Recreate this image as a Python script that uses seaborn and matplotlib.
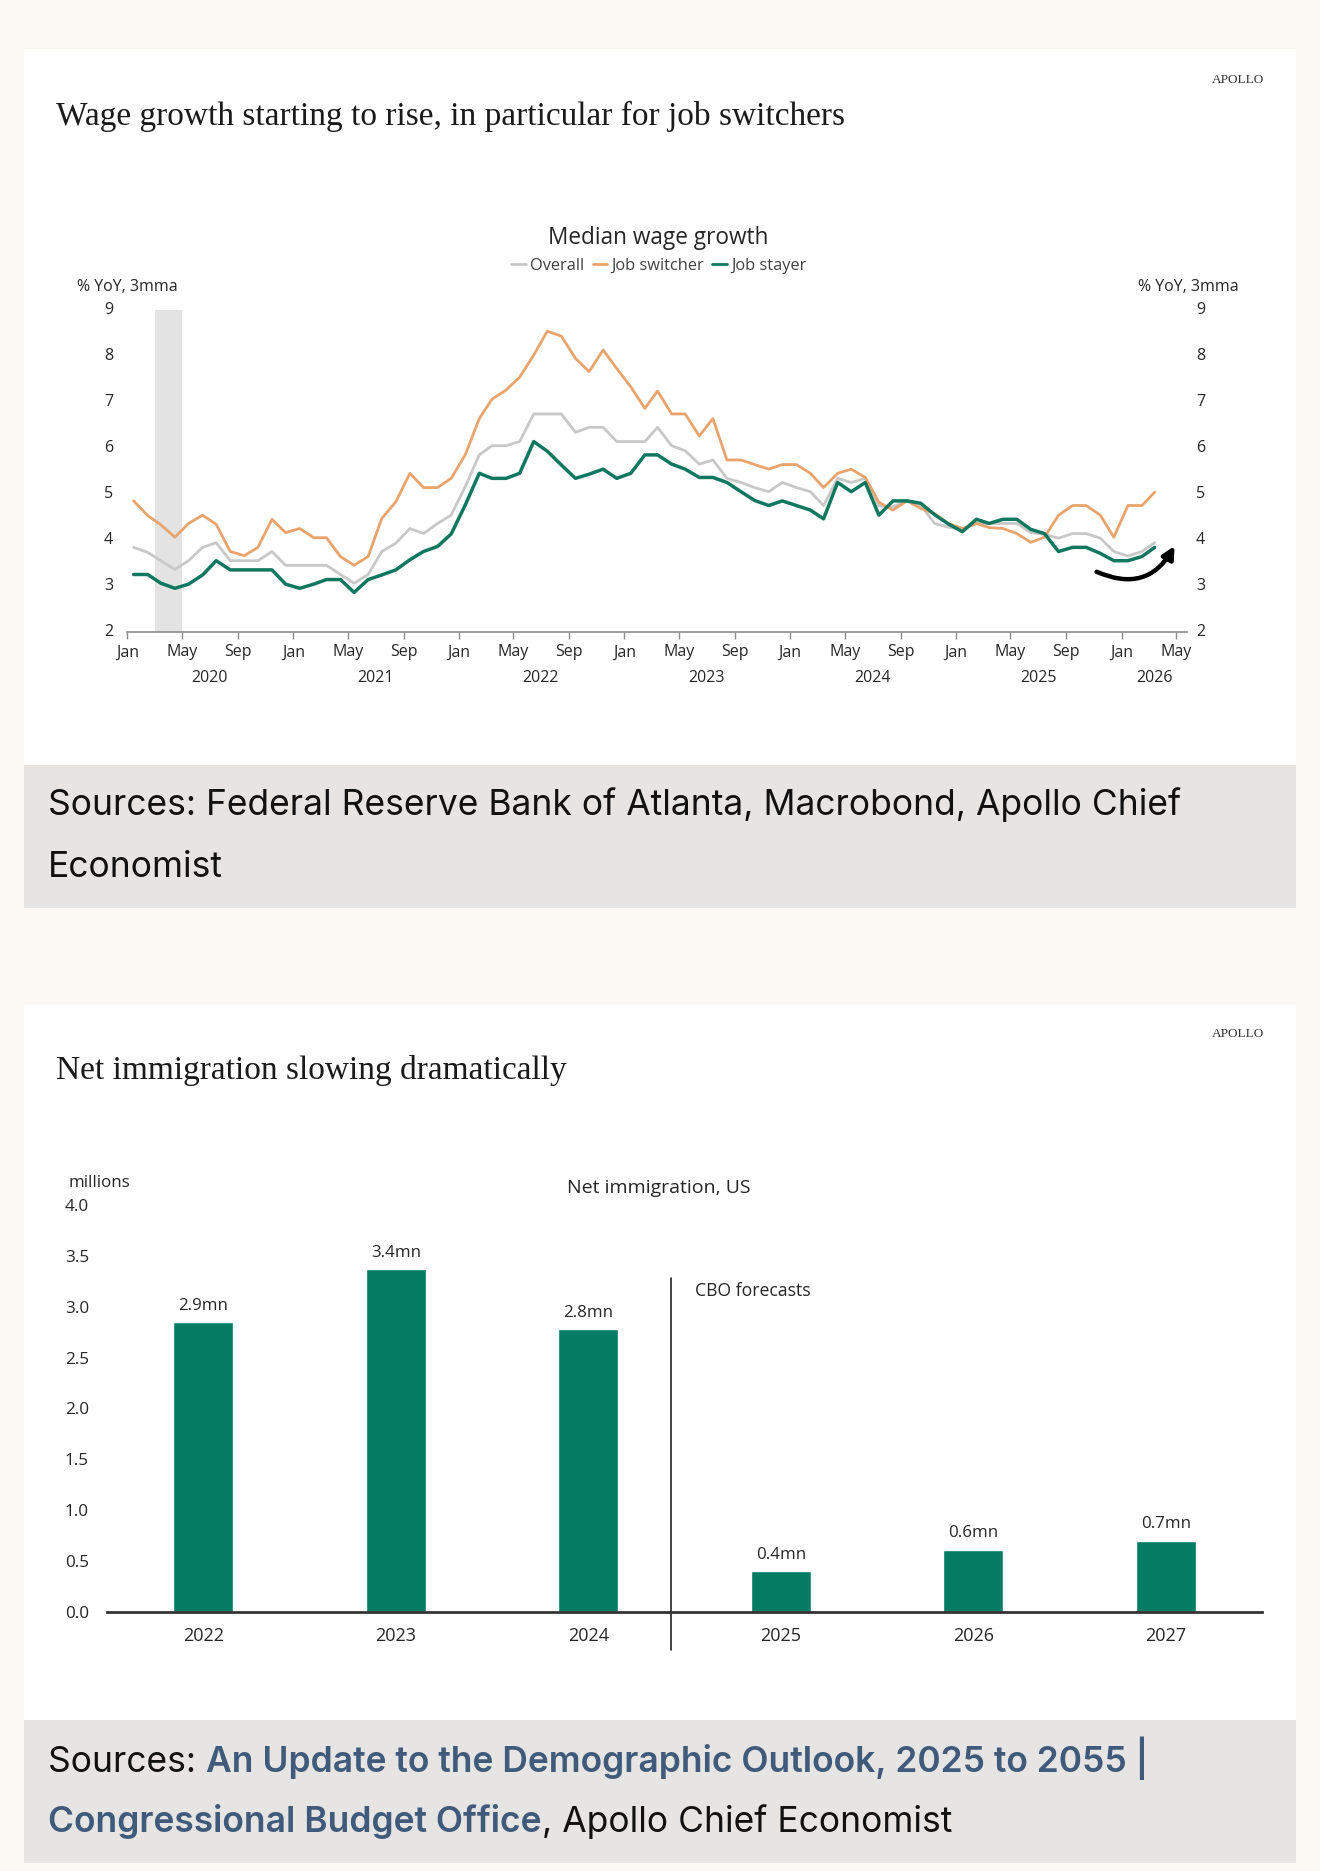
import numpy as np
import pandas as pd
import matplotlib
matplotlib.use("Agg")
import matplotlib.pyplot as plt
import matplotlib.dates as mdates
import matplotlib.transforms as mtransforms
from matplotlib.patches import Rectangle
from matplotlib.lines import Line2D
import seaborn as sns

# Median wage growth, % YoY 3mma, Jan 2020 .. Mar 2026
overall = [3.84, 3.73, 3.55, 3.36, 3.55, 3.84, 3.94, 3.55, 3.55, 3.55, 3.75, 3.45,
           3.45, 3.45, 3.45, 3.25, 3.06, 3.25, 3.75, 3.93, 4.25, 4.14, 4.36, 4.54,
           5.16, 5.85, 6.05, 6.05, 6.14, 6.74, 6.74, 6.74, 6.34, 6.45, 6.45, 6.14,
           6.14, 6.14, 6.45, 6.05, 5.94, 5.65, 5.74, 5.34, 5.25, 5.14, 5.05, 5.25,
           5.14, 5.05, 4.75, 5.34, 5.25, 5.34, 4.74, 4.72, 4.86, 4.76, 4.36, 4.28,
           4.23, 4.36, 4.36, 4.36, 4.36, 4.16, 4.12, 4.04, 4.14, 4.14, 4.04, 3.75,
           3.65, 3.75, 3.94]
switcher = [4.85, 4.53, 4.33, 4.06, 4.36, 4.54, 4.34, 3.75, 3.66, 3.84, 4.45, 4.16,
            4.25, 4.05, 4.05, 3.64, 3.45, 3.64, 4.47, 4.83, 5.45, 5.14, 5.14, 5.34,
            5.85, 6.64, 7.06, 7.26, 7.54, 8.02, 8.54, 8.43, 7.95, 7.66, 8.13, 7.73,
            7.33, 6.86, 7.24, 6.74, 6.74, 6.26, 6.64, 5.74, 5.74, 5.64, 5.54, 5.64,
            5.64, 5.45, 5.14, 5.45, 5.54, 5.36, 4.82, 4.65, 4.85, 4.69, 4.57, 4.36,
            4.25, 4.36, 4.27, 4.25, 4.14, 3.95, 4.06, 4.54, 4.75, 4.75, 4.54, 4.06,
            4.75, 4.75, 5.04]
stayer = [3.25, 3.25, 3.06, 2.95, 3.04, 3.24, 3.55, 3.35, 3.35, 3.35, 3.35, 3.04,
          2.95, 3.04, 3.14, 3.14, 2.86, 3.14, 3.24, 3.35, 3.57, 3.75, 3.86, 4.13,
          4.76, 5.45, 5.34, 5.34, 5.45, 6.14, 5.93, 5.63, 5.34, 5.43, 5.54, 5.34,
          5.45, 5.85, 5.85, 5.65, 5.54, 5.36, 5.36, 5.25, 5.05, 4.86, 4.75, 4.85,
          4.75, 4.65, 4.46, 5.25, 5.05, 5.25, 4.54, 4.85, 4.85, 4.80, 4.55, 4.35,
          4.18, 4.45, 4.36, 4.45, 4.45, 4.23, 4.14, 3.75, 3.84, 3.84, 3.71, 3.55,
          3.55, 3.64, 3.84]
months = pd.date_range("2020-01-01", periods=len(overall), freq="MS") + pd.Timedelta(days=14)
series_names = ["Overall", "Job switcher", "Job stayer"]
series_colors = {"Overall": "#c8c8c8", "Job switcher": "#e8a46c", "Job stayer": "#11785f"}
year_labels = ["2020", "2021", "2022", "2023", "2024", "2025", "2026"]
year_label_dates = ["2020-07-01", "2021-07-01", "2022-07-01", "2023-07-01",
                    "2024-07-01", "2025-07-01", "2026-03-14"]

# Net immigration, US, millions
imm_years = ["2022", "2023", "2024", "2025", "2026", "2027"]
imm_values = [2.85, 3.37, 2.78, 0.40, 0.61, 0.70]
imm_labels = ["2.9mn", "3.4mn", "2.8mn", "0.4mn", "0.6mn", "0.7mn"]

W, H = 1320, 1871
BG = "#fcf8f4"
GREY_BOX = "#e6e5e4"
TXT = "#262626"

sns.set_theme(style="white")
plt.rcParams["font.family"] = ["Open Sans", "DejaVu Sans"]

fig = plt.figure(figsize=(W / 100, H / 100), dpi=100, facecolor=BG)

# background layer in pixel coordinates
bg = fig.add_axes([0, 0, 1, 1], zorder=-10)
bg.set_xlim(0, W)
bg.set_ylim(H, 0)
bg.axis("off")


def box(x0, y0, x1, y1, color):
    bg.add_patch(Rectangle((x0, y0), x1 - x0, y1 - y0, facecolor=color, edgecolor="none"))


box(24, 49, 1296, 765, "white")
box(24, 765, 1296, 908, GREY_BOX)
box(24, 1005, 1296, 1720, "white")
box(24, 1720, 1296, 1863, GREY_BOX)

serif = ["Liberation Serif", "DejaVu Serif"]
bg.text(56, 116, "Wage growth starting to rise, in particular for job switchers",
        family=serif, fontsize=24, color="#1a1a1a", va="center", ha="left")
bg.text(56, 1071, "Net immigration slowing dramatically",
        family=serif, fontsize=24, color="#1a1a1a", va="center", ha="left")
for yy in (80, 1034):
    bg.text(1264, yy, "APOLLO", family=serif, fontsize=9.5, color="#333333", ha="right", va="center")

src_font = ["Inter", "DejaVu Sans"]
SRC_SIZE = 25.5
bg.text(48, 815, "Sources: Federal Reserve Bank of Atlanta, Macrobond, Apollo Chief",
        family=src_font, fontsize=SRC_SIZE, color="#111111", va="baseline")
bg.text(48, 877, "Economist", family=src_font, fontsize=SRC_SIZE, color="#111111", va="baseline")

# second source line with link colored parts
LINK = "#3f5a7a"
renderer = fig.canvas.get_renderer()


def run_text(x, y, parts):
    for s, c, w in parts:
        t = bg.text(x, y, s, family=src_font, fontsize=SRC_SIZE, color=c, weight=w, va="baseline")
        bb = t.get_window_extent(renderer=renderer)
        x += bb.width * W / fig.bbox.width


run_text(48, 1772, [("Sources: ", "#111111", "normal"),
                    ("An Update to the Demographic Outlook, 2025 to 2055 |", LINK, "semibold")])
run_text(48, 1832, [("Congressional Budget Office", LINK, "semibold"),
                    (", Apollo Chief Economist", "#111111", "normal")])

# ---------- line chart ----------
AX_L, AX_R = 127.3, 1187
px_day = (1176 - AX_L) / (pd.Timestamp("2026-05-01") - pd.Timestamp("2020-01-01")).days
x_end = pd.Timestamp("2026-05-01") + pd.Timedelta(days=(AX_R - 1176) / px_day)
ax1 = fig.add_axes([AX_L / W, 1 - 632 / H, (AX_R - AX_L) / W, (632 - 310) / H])
ax1.set_facecolor("none")

df = pd.DataFrame({
    "date": np.tile(months, 3),
    "value": overall + switcher + stayer,
    "series": np.repeat(series_names, len(months)),
})
for name, lw in zip(series_names, [2.0, 2.0, 2.5]):
    sns.lineplot(data=df[df.series == name], x="date", y="value", color=series_colors[name],
                 linewidth=lw, ax=ax1, legend=False)

ax1.axvspan(pd.Timestamp("2020-03-01"), pd.Timestamp("2020-05-01"), color="#e3e3e3", lw=0, zorder=0)
ax1.set_xlim(pd.Timestamp("2020-01-01"), x_end)
ax1.set_ylim(2, 9)
ax1.set_yticks(range(2, 10))
ax1.set_xlabel("")
ax1.set_ylabel("")
ax1.xaxis.set_major_locator(mdates.MonthLocator(bymonth=[1, 5, 9]))
ax1.xaxis.set_major_formatter(mdates.DateFormatter("%b"))
for s in ["left", "right", "top"]:
    ax1.spines[s].set_visible(False)
ax1.spines["bottom"].set_color("#8c8c8c")
ax1.spines["bottom"].set_linewidth(1.2)
ax1.tick_params(axis="x", bottom=True, length=5, width=1, color="#8c8c8c", pad=4,
                labelsize=11.5, labelcolor=TXT)
ax1.tick_params(axis="y", left=False, right=False, labelleft=False, labelright=False, length=0)

# y labels on both sides (left right-aligned, right left-aligned)
ytrans = mtransforms.blended_transform_factory(ax1.transAxes, ax1.transData)
left_fx = (113 - AX_L) / (AX_R - AX_L)
right_fx = (1196 - AX_L) / (AX_R - AX_L)
for v in range(2, 10):
    ax1.text(left_fx, v, str(v), transform=ytrans, ha="right", va="center", fontsize=11.5,
             color=TXT, clip_on=False)
    ax1.text(right_fx, v, str(v), transform=ytrans, ha="left", va="center", fontsize=11.5,
             color=TXT, clip_on=False)

trans = mtransforms.blended_transform_factory(ax1.transData, ax1.transAxes)
for yr, mid in zip(year_labels, year_label_dates):
    ax1.text(pd.Timestamp(mid), -0.143, yr, transform=trans, ha="center", va="center",
             fontsize=11.5, color=TXT)

ax1.annotate("", xy=(pd.Timestamp("2026-04-28"), 3.87), xytext=(pd.Timestamp("2025-11-07"), 3.31),
             arrowprops=dict(arrowstyle="-|>", color="black", lw=3.2, mutation_scale=18,
                             connectionstyle="arc3,rad=0.45", shrinkA=0, shrinkB=0))

bg.text(127, 287, "% YoY, 3mma", fontsize=11.5, color=TXT, ha="center", va="center")
bg.text(1188, 287, "% YoY, 3mma", fontsize=11.5, color=TXT, ha="center", va="center")
bg.text(658, 238, "Median wage growth", fontsize=16.3, color=TXT, ha="center", va="center")

handles = [Line2D([], [], color=series_colors[n], lw=2) for n in series_names]
fig.legend(handles, series_names, loc="center", bbox_to_anchor=(659 / W, 1 - 266 / H),
           ncol=3, frameon=False, fontsize=11.8, handlelength=0.9, handletextpad=0.25,
           columnspacing=0.5, labelcolor="#404040")

# ---------- bar chart ----------
ax2 = fig.add_axes([107 / W, 1 - 1611.7 / H, (1262 - 107) / W, (1611.7 - 1205) / H])
ax2.set_facecolor("none")
sns.barplot(x=imm_years, y=imm_values, color="#057c63", saturation=1, width=0.31, ax=ax2)
ax2.bar_label(ax2.containers[0], labels=imm_labels, padding=6, fontsize=12.2, color=TXT)
ax2.set_xlim(-0.5, 5.5)
ax2.set_ylim(0, 4.0)
ax2.set_yticks(np.arange(0, 4.01, 0.5))
ax2.set_yticklabels([f"{v:.1f}" for v in np.arange(0, 4.01, 0.5)])
for s in ["left", "right", "top"]:
    ax2.spines[s].set_visible(False)
ax2.spines["bottom"].set_color("#333333")
ax2.spines["bottom"].set_linewidth(2)
ax2.tick_params(axis="x", bottom=False, length=0, pad=11, labelsize=13, labelcolor=TXT)
ax2.tick_params(axis="y", left=False, length=0, pad=13, labelsize=12.3, labelcolor=TXT)
ax2.plot([2.43, 2.43], [-0.38, 3.28], color="#222222", lw=1.2, clip_on=False)
ax2.text(2.43 + 0.125, 3.15, "CBO forecasts", fontsize=12.7, color=TXT, ha="left", va="center")

bg.text(68, 1183, "millions", fontsize=12.2, color=TXT, ha="left", va="center")
bg.text(659, 1188, "Net immigration, US", fontsize=14, color=TXT, ha="center", va="center")

fig.savefig("out.png", dpi=100, facecolor=BG)
